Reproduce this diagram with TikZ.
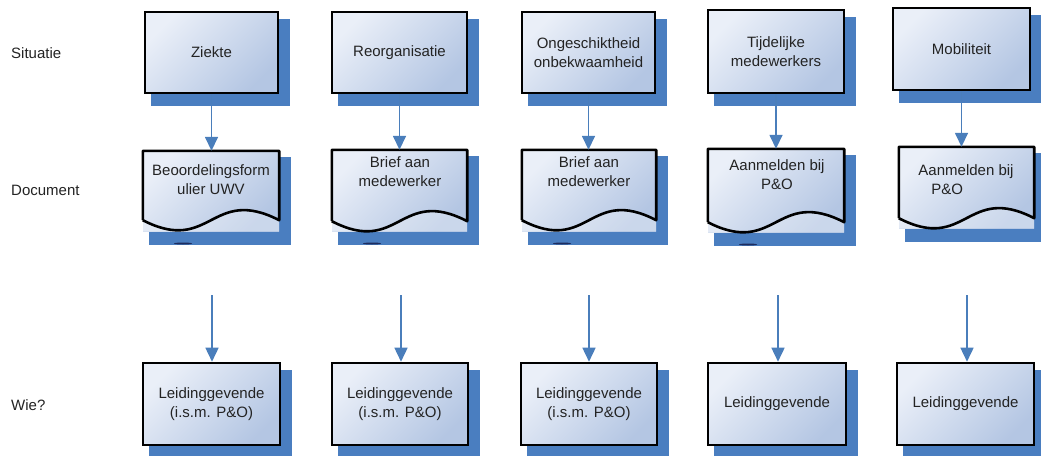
\documentclass[tikz,border=0pt]{standalone}
\usepackage{fontspec}
\setmainfont{Liberation Sans}
\usetikzlibrary{arrows.meta,calc}
\definecolor{shadowc}{RGB}{74,126,192}
\definecolor{arrowc}{RGB}{74,126,187}
\definecolor{boxlight}{RGB}{234,239,248}
\definecolor{boxdark}{RGB}{180,198,227}
\definecolor{txtc}{RGB}{35,35,35}
\definecolor{blobc}{RGB}{30,45,95}
\tikzset{
  every node/.style={font=\fontsize{15}{19}\selectfont, text=txtc},
  boxst/.style={draw=black, line width=2.6pt, top color=boxlight, bottom color=boxdark, shading angle=45, align=center, inner sep=2pt},
  docfill/.style={top color=boxlight, bottom color=boxdark, shading angle=45},
  docline/.style={draw=black, line width=2.6pt, line join=round},
  doctext/.style={align=center, inner sep=0pt},
  arr/.style={draw=arrowc, line width=1.6pt, -{Triangle[width=13pt,length=14pt]}},
  lbl/.style={anchor=west, inner sep=0pt}
}
% #1 name, #2 left, #3 top, #4 right, #5 bottom, #6 text
\newcommand\mybox[6]{%
  \fill[shadowc] (#2+6,#3+7) rectangle (#4+12,#5+13);
  \node[boxst, minimum width={#4-#2}, minimum height={#5-#3}] (#1) at ({(#2+#4)/2},{(#3+#5)/2}) {#6};
}
% #1 name, #2 left, #3 top, #4 right, #5 side end, #6 fill bottom
\newcommand\mydoc[6]{%
  \fill[shadowc] (#2+6,#3+6) rectangle (#4+12,#6+14);
  \shade[docfill] (#2,#3) rectangle (#4,#6);
  \node[inner sep=0pt, minimum width={#4-#2}, minimum height={#5-#3}] (#1) at ({(#2+#4)/2},{(#3+#5)/2}) {};
  \fill[white, opacity=0.3] (#1.south east) .. controls ($(#1.south)+(0,-35)$) and ($(#1.south)+(0,35)$) .. (#1.south west) -- (#2,#6) -- (#4,#6) -- cycle;
  \draw[docline] (#1.south west) -- (#1.north west) -- (#1.north east) -- (#1.south east) .. controls ($(#1.south)+(0,-35)$) and ($(#1.south)+(0,35)$) .. (#1.south west);
}
\newcommand\myblob[2]{\fill[blobc] ({#1+40},{#2+12.5}) ellipse (9 and 1);}
\begin{document}
\begin{tikzpicture}[x=1pt, y=-1pt]
\useasboundingbox (0,0) rectangle (1041,455);
\clip (0,0) rectangle (1041,455);

% row labels
\node[lbl] (lsit) at (11,53) {Situatie};
\node[lbl] (ldoc) at (11,190) {Document};
\node[lbl] (lwie) at (11,405) {Wie?};

% situations
\mybox{s1}{145}{12}{278}{93}{Ziekte}
\mybox{s2}{332}{12}{467}{93}{Reorganisatie}
\mybox{s3}{522}{12}{655}{93}{Ongeschiktheid\\onbekwaamheid}
\mybox{s4}{708}{10}{844}{93}{Tijdelijke\\medewerkers}
\mybox{s5}{893}{8}{1030}{90}{Mobiliteit}

% documents
\mydoc{d1}{143}{151}{279}{220}{231}
\mydoc{d2}{332}{150}{467}{221}{231}
\mydoc{d3}{522}{150}{656}{220}{231}
\mydoc{d4}{708}{149}{844}{222}{232}
\mydoc{d5}{899}{147}{1034}{218}{228}
\myblob{143}{231}
\myblob{332}{231}
\myblob{522}{231}
\myblob{708}{232}

\node[doctext] (t1) at (211,180) {Beoordelingsform\\ulier UWV};
\node[doctext] (t2) at (400,172) {Brief aan\\medewerker};
\node[doctext] (t3) at (589,172) {Brief aan\\medewerker};
\node[doctext] (t4) at (777,175) {Aanmelden bij\\P\&O};
\node[doctext, align=left] (t5) at (966,180) {Aanmelden bij\\\hspace*{13pt}P\&O};

% who
\mybox{w1}{143}{363}{280}{445}{Leidinggevende\\(i.s.m. P\&O)}
\mybox{w2}{332}{363}{468}{445}{Leidinggevende\\(i.s.m. P\&O)}
\mybox{w3}{521}{363}{657}{445}{Leidinggevende\\(i.s.m. P\&O)}
\mybox{w4}{708}{363}{846}{445}{Leidinggevende}
\mybox{w5}{897}{363}{1034}{445}{Leidinggevende}

% arrows situation -> document
\draw[arr] (s1.south) -- (s1.south |- d1.north);
\draw[arr] (s2.south) -- (s2.south |- d2.north);
\draw[arr] (s3.south) -- (s3.south |- d3.north);
\draw[arr] (s4.south) -- (s4.south |- d4.north);
\draw[arr] (s5.south) -- (s5.south |- d5.north);

% free arrows -> who
\coordinate (c1) at (212,295);
\coordinate (c2) at (401,295);
\coordinate (c3) at (589,295);
\coordinate (c4) at (778,295);
\coordinate (c5) at (967,295);
\draw[arr] (c1) -- (c1 |- w1.north);
\draw[arr] (c2) -- (c2 |- w2.north);
\draw[arr] (c3) -- (c3 |- w3.north);
\draw[arr] (c4) -- (c4 |- w4.north);
\draw[arr] (c5) -- (c5 |- w5.north);
\end{tikzpicture}
\end{document}
